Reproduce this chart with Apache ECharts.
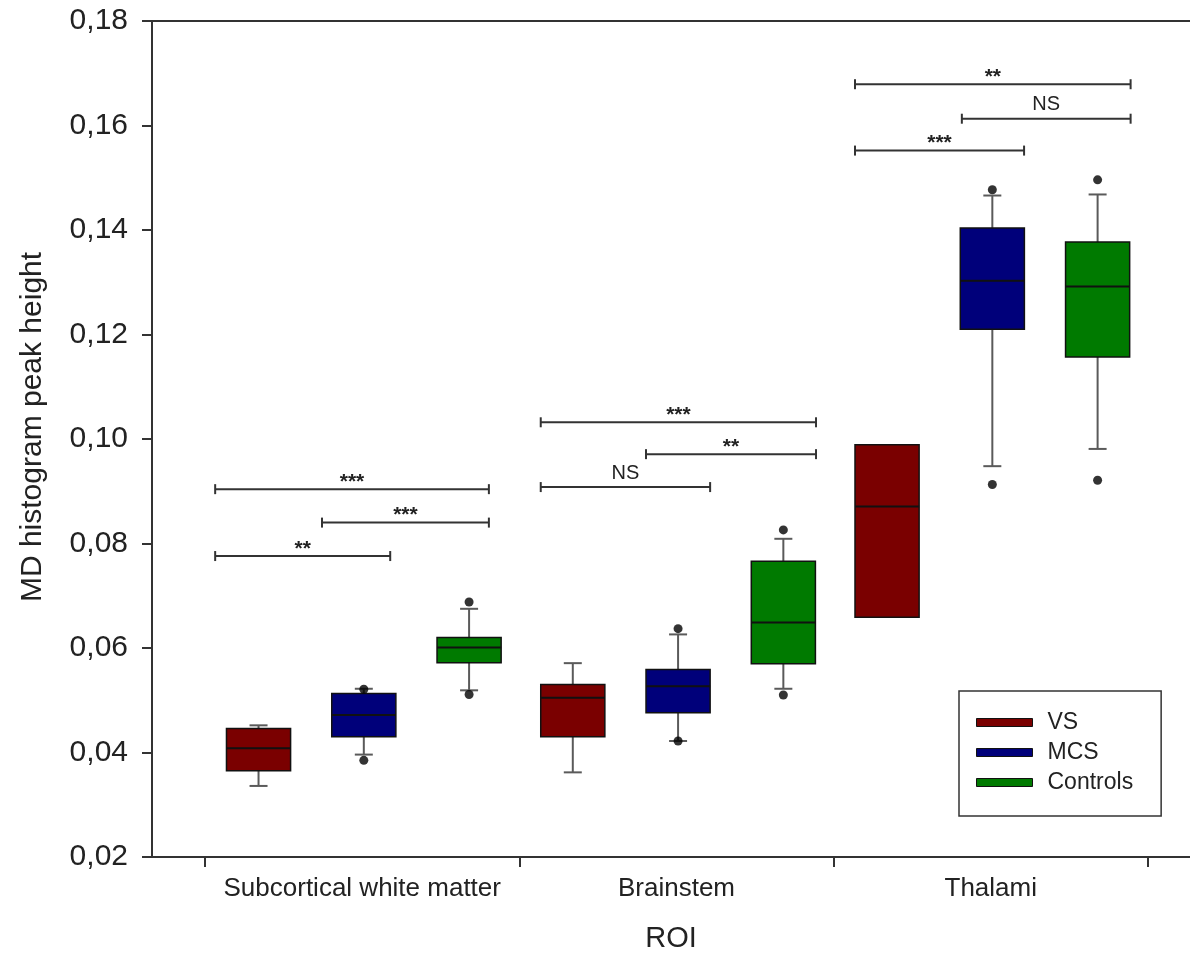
<!DOCTYPE html>
<html>
<head>
<meta charset="utf-8">
<title>MD histogram peak height by ROI</title>
<script src="https://cdn.jsdelivr.net/npm/echarts@6/dist/echarts.min.js"></script>
<style>
  html, body { margin: 0; padding: 0; background: #fff; }
  #chart { width: 1190px; height: 958px; }
</style>
</head>
<body>
<div id="chart"></div>
<script>
// ROI groups on the x axis
const groups = ['Subcortical white matter', 'Brainstem', 'Thalami'];
const seriesNames = ['VS', 'MCS', 'Controls'];

// [min, q1, median, q3, max] per ROI
const vsBox = [
  [0.0336, 0.0365, 0.0408, 0.0446, 0.0452],
  [0.0362, 0.0430, 0.0505, 0.0530, 0.0571],
  [0.0659, 0.0659, 0.0871, 0.0989, 0.0989]
];
const mcsBox = [
  [0.0396, 0.0430, 0.0472, 0.0513, 0.0522],
  [0.0422, 0.0476, 0.0527, 0.0559, 0.0626],
  [0.0948, 0.1210, 0.1303, 0.1404, 0.1466]
];
const controlsBox = [
  [0.0519, 0.0572, 0.0601, 0.0620, 0.0675],
  [0.0522, 0.0570, 0.0649, 0.0766, 0.0809],
  [0.0981, 0.1157, 0.1292, 0.1377, 0.1468]
];

// outliers: [roi index, value]
const vsOutliers = [];
const mcsOutliers = [[0, 0.0521], [0, 0.0385], [1, 0.0637], [1, 0.0422], [2, 0.1477], [2, 0.0913]];
const controlsOutliers = [[0, 0.0688], [0, 0.0511], [1, 0.0826], [1, 0.0510], [2, 0.1496], [2, 0.0921]];

// significance brackets: [x start, x end, y level] and their labels
const brackets = [
  [0.032, 0.903, 0.0904], [0.372, 0.903, 0.0840], [0.032, 0.589, 0.0776],
  [1.068, 1.944, 0.1032], [1.403, 1.944, 0.0971], [1.068, 1.607, 0.0908],
  [2.068, 2.945, 0.1679], [2.408, 2.945, 0.1613], [2.068, 2.606, 0.1552]
];
const bracketLabels = ['***', '***', '**', '***', '**', 'NS', '**', 'NS', '***'];

// y axis ticks
const yTicks = [0.02, 0.04, 0.06, 0.08, 0.10, 0.12, 0.14, 0.16, 0.18];

const colors = ['#7a0000', '#00007a', '#007a00'];
const offsets = [0.17, 0.505, 0.84];
const BOX_W = 0.204;
const FONT = "'Liberation Sans', Arial, sans-serif";

function renderBox(params, api) {
  const x = api.value(0);
  const lo = api.coord([x, api.value(1)]);
  const q1 = api.coord([x, api.value(2)]);
  const med = api.coord([x, api.value(3)]);
  const q3 = api.coord([x, api.value(4)]);
  const hi = api.coord([x, api.value(5)]);
  const w = api.size([BOX_W, 0])[0];
  const cap = 9;
  const whisker = { stroke: '#5a5a5a', lineWidth: 2 };
  const children = [];
  // whiskers only when they stick out of the box
  if (lo[1] - q1[1] > 0.5) {
    children.push({ type: 'line', shape: { x1: lo[0], y1: lo[1], x2: q1[0], y2: q1[1] }, style: whisker });
    children.push({ type: 'line', shape: { x1: lo[0] - cap, y1: lo[1], x2: lo[0] + cap, y2: lo[1] }, style: whisker });
  }
  if (q3[1] - hi[1] > 0.5) {
    children.push({ type: 'line', shape: { x1: q3[0], y1: q3[1], x2: hi[0], y2: hi[1] }, style: whisker });
    children.push({ type: 'line', shape: { x1: hi[0] - cap, y1: hi[1], x2: hi[0] + cap, y2: hi[1] }, style: whisker });
  }
  children.push({
    type: 'rect',
    shape: { x: q3[0] - w / 2, y: q3[1], width: w, height: q1[1] - q3[1] },
    style: { fill: api.visual('color'), stroke: '#111', lineWidth: 1.5 }
  });
  children.push({
    type: 'line',
    shape: { x1: med[0] - w / 2, y1: med[1], x2: med[0] + w / 2, y2: med[1] },
    style: { stroke: '#111', lineWidth: 2 }
  });
  return { type: 'group', children };
}

function renderBracket(params, api) {
  const a = api.coord([api.value(0), api.value(2)]);
  const b = api.coord([api.value(1), api.value(2)]);
  const label = bracketLabels[params.dataIndex];
  const stars = label.indexOf('*') >= 0;
  const line = { stroke: '#333', lineWidth: 2 };
  return {
    type: 'group',
    children: [
      { type: 'line', shape: { x1: a[0], y1: a[1], x2: b[0], y2: b[1] }, style: line },
      { type: 'line', shape: { x1: a[0], y1: a[1] - 5, x2: a[0], y2: a[1] + 5 }, style: line },
      { type: 'line', shape: { x1: b[0], y1: b[1] - 5, x2: b[0], y2: b[1] + 5 }, style: line },
      {
        type: 'text',
        x: (a[0] + b[0]) / 2,
        y: a[1] - (stars ? 7 : 14),
        style: {
          text: label,
          align: 'center',
          verticalAlign: 'middle',
          fill: '#222',
          font: (stars ? 'bold 21px ' : '20px ') + FONT
        }
      }
    ]
  };
}

const boxes = [vsBox, mcsBox, controlsBox];
const outliers = [vsOutliers, mcsOutliers, controlsOutliers];

const series = [];
boxes.forEach((box, s) => {
  series.push({
    name: seriesNames[s],
    type: 'custom',
    renderItem: renderBox,
    itemStyle: { color: colors[s], borderColor: '#111', borderWidth: 1 },
    encode: { x: 0, y: [1, 2, 3, 4, 5] },
    data: box.map((b, i) => [i + offsets[s]].concat(b)),
    z: 3
  });
});
outliers.forEach((pts, s) => {
  series.push({
    name: seriesNames[s] + ' outliers',
    type: 'scatter',
    symbolSize: 9,
    itemStyle: { color: '#000' },
    data: pts.map(p => [p[0] + offsets[s], p[1]]),
    z: 4
  });
});
series.push({
  name: 'significance',
  type: 'custom',
  renderItem: renderBracket,
  encode: { x: [0, 1], y: 2 },
  data: brackets,
  z: 5
});

const chart = echarts.init(document.getElementById('chart'), null, { renderer: 'canvas' });
chart.setOption({
  animation: false,
  backgroundColor: '#fff',
  textStyle: { fontFamily: FONT },
  grid: { left: 152, right: 0, top: 21, bottom: 101, containLabel: false },
  legend: {
    data: seriesNames,
    orient: 'vertical',
    left: 959,
    top: 691,
    padding: [20, 28, 22, 17],
    itemGap: 7,
    itemWidth: 56,
    itemHeight: 8,
    icon: 'rect',
    borderColor: '#333',
    borderWidth: 1.5,
    backgroundColor: '#fff',
    itemStyle: { borderColor: '#111', borderWidth: 1 },
    textStyle: { fontSize: 23, color: '#222', lineHeight: 20, padding: [0, 0, 0, 10] }
  },
  xAxis: [
    {
      type: 'value',
      min: -0.169,
      max: 3.134,
      name: 'ROI',
      nameLocation: 'middle',
      nameGap: 67,
      nameTextStyle: { fontSize: 29, color: '#222' },
      splitLine: { show: false },
      axisLine: { onZero: false, lineStyle: { color: '#333', width: 2 } },
      axisTick: { customValues: [0, 1, 2, 3], length: 10, lineStyle: { color: '#333', width: 2 } },
      axisLabel: {
        customValues: [0.5, 1.5, 2.5],
        margin: 19,
        fontSize: 26,
        color: '#222',
        formatter: v => groups[Math.floor(v)]
      }
    },
    {
      type: 'value',
      position: 'top',
      min: -0.169,
      max: 3.134,
      splitLine: { show: false },
      axisLine: { onZero: false, lineStyle: { color: '#333', width: 2 } },
      axisTick: { show: false },
      axisLabel: { show: false }
    }
  ],
  yAxis: {
    type: 'value',
    min: 0.02,
    max: 0.18,
    interval: 0.02,
    name: 'MD histogram peak height',
    nameLocation: 'middle',
    nameGap: 104,
    nameTextStyle: { fontSize: 30, color: '#222', padding: [0, 0, 0, 24] },
    splitLine: { show: false },
    axisLine: { show: true, onZero: false, lineStyle: { color: '#333', width: 2 } },
    axisTick: { show: true, length: 10, lineStyle: { color: '#333', width: 2 } },
    axisLabel: {
      customValues: yTicks,
      margin: 24,
      fontSize: 30,
      color: '#222',
      formatter: v => v.toFixed(2).replace('.', ',')
    }
  },
  series: series
});
</script>
</body>
</html>
